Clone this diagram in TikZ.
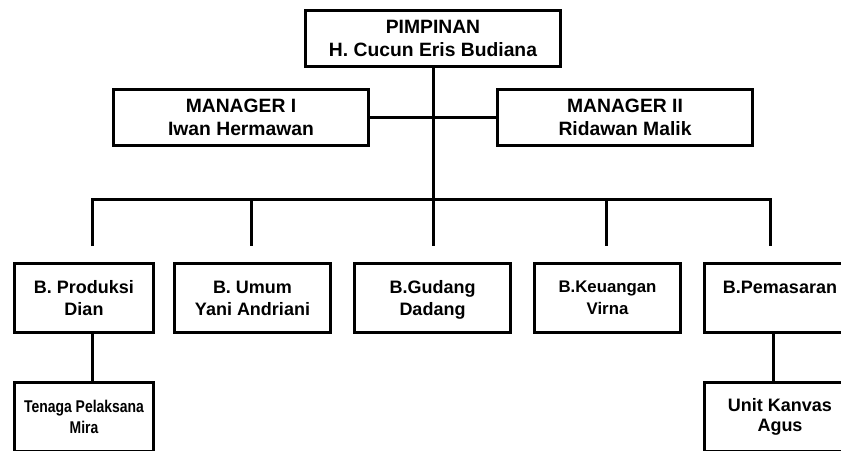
\documentclass[tikz,border=0pt]{standalone}
\usepackage{fontspec}
\setmainfont{Liberation Sans}
\newfontfamily\sempit[FakeStretch=0.82]{Liberation Sans}
\usepackage{tikz}

\tikzset{
  kotak/.style={draw, line width=3pt, rectangle, inner sep=0pt, align=center,
    font=\bfseries\fontsize{18}{22}\selectfont},
  atas/.style={kotak, minimum width=255, minimum height=56,
    font=\bfseries\fontsize{19.3}{23}\selectfont},
  bawah/.style={kotak, minimum height=69},
  garis/.style={line width=3pt},
}

\begin{document}
\begin{tikzpicture}[x=1pt,y=-1pt]
        \clip(0,0)rectangle(841,450);
        % pimpinan dan manager
        \node[atas](pimpinan)at(433,38.5){PIMPINAN\\H. Cucun Eris Budiana};
        \node[atas](man1)at(241,117.5){MANAGER I\\Iwan Hermawan};
        \node[atas](man2)at(625,117.5){MANAGER II\\Ridawan Malik};
        % bagian
        \node[bawah,minimum width=139](prod)at(84,298){B. Produksi\\Dian};
        \node[bawah,minimum width=156](umum)at(252.5,298){B. Umum\\Yani Andriani};
        \node[bawah,minimum width=156,text depth=0pt](gudang)at(432.5,298){B.Gudang\\Dadang};
        \node[bawah,minimum width=146,font=\bfseries\fontsize{16.8}{22}\selectfont](keu)at(607.5,298){B.Keuangan\\Virna};
        \node[bawah,minimum width=151,text height=13,text depth=23](pemasaran)at(780,298){B.Pemasaran};
        \node[bawah,minimum width=139,font=\bfseries\sempit\fontsize{17}{21}\selectfont](tenaga)at(84,417){Tenaga Pelaksana\\Mira};
        \node[bawah,minimum width=151,font=\bfseries\fontsize{18}{20}\selectfont](kanvas)at(780,417){Unit Kanvas\\Agus};
        % garis
        \coordinate(pusat)at(433,199);
        \coordinate(tprod)at(92,199);
        \coordinate(tpem)at(770,199);
        \draw[garis](pimpinan.south)--(pusat);
        \draw[garis](man1)--(man2);
        \draw[garis,shorten <=16pt,shorten >=16pt](prod.north -| tprod)--(tprod)--(tpem)--(pemasaran.north -| tpem);
        \foreach \x/\b in {251/umum,433/gudang,606/keu}
            \draw[garis,shorten >=16pt](\x,199)--(\x,199 |- \b.north);
        \draw[garis](92,0 |- prod.south)--(92,0 |- tenaga.north);
        \draw[garis](773,0 |- pemasaran.south)--(773,0 |- kanvas.north);
    \end{tikzpicture}
\end{document}
